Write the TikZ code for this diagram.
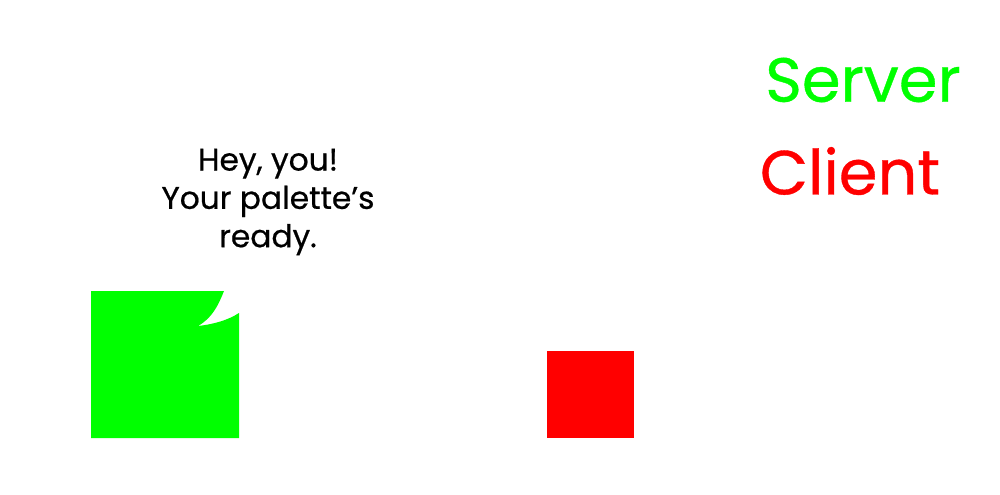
\documentclass[tikz,border=0pt]{standalone}
\usepackage{fontspec}
\setmainfont{Poppins}[FakeBold=0.6]
\usetikzlibrary{positioning}
\definecolor{srvgreen}{RGB}{0,255,0}
\definecolor{clired}{RGB}{255,0,0}

\begin{document}
\begin{tikzpicture}[x=0.02cm,y=-0.02cm,
lbl/.style={inner sep=0pt,font=\fontsize{35.5}{40}\selectfont},
say/.style={inner sep=0pt,align=center,font=\fontsize{17.8}{21.8}\selectfont}]
\useasboundingbox (0,0) rectangle (1000,494);
% server palette with the speech tail cut out
\fill[srvgreen] (91,291) -- (224,291) .. controls (218,306) and (212,318) .. (198,326)
  .. controls (215,324) and (228,320) .. (239,313) -- (239,438) -- (91,438) -- cycle;
\coordinate (palette) at (165,364);
\node[say] (speech) at (268,202) {Hey, you!\\Your palette’s\\ready.};
% client square
\node[fill=clired,minimum width=87*0.02cm,minimum height=87*0.02cm,inner sep=0pt] (client) at (590.5,394.5) {};
\node[lbl,text=srvgreen] (srvlbl) at (863,80) {Server};
\node[lbl,text=clired] (clilbl) at (850,171) {Client};
\end{tikzpicture}
\end{document}
